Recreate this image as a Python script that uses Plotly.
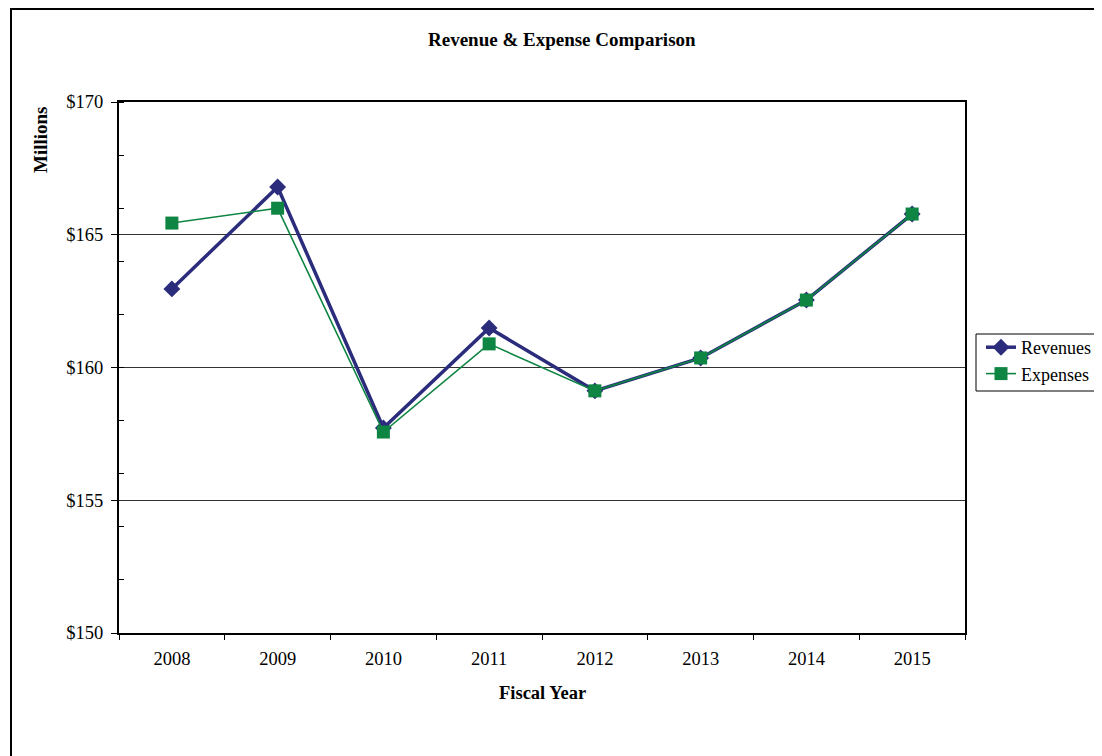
import plotly.graph_objects as go

years = ["2008", "2009", "2010", "2011", "2012", "2013", "2014", "2015"]
revenues = [162.96, 166.8, 157.72, 161.49, 159.12, 160.36, 162.54, 165.78]
expenses = [165.44, 166.0, 157.57, 160.89, 159.12, 160.36, 162.54, 165.78]
y_ticks = [150, 155, 160, 165, 170]
y_tick_labels = ["$150", "$155", "$160", "$165", "$170"]

FONT = "Liberation Serif"
OFF = 8  # page body margin offset
W, H = 1102 - OFF, 756 - OFF
# plot area in reference (screen) pixels
L, R, T, B = 119, 965, 102, 633

fig = go.Figure()
fig.add_trace(go.Scatter(
    x=years, y=revenues, name="Revenues", mode="lines+markers",
    line=dict(color="#2B2C7C", width=3.5),
    marker=dict(symbol="diamond", size=13, color="#2B2C7C"),
))
fig.add_trace(go.Scatter(
    x=years, y=expenses, name="Expenses", mode="lines+markers",
    line=dict(color="#0E8542", width=1.6),
    marker=dict(symbol="square", size=13, color="#0E8542"),
))

def px_x(p):
    return (p - L) / (R - L)

def px_y(p):
    return (B - p) / (B - T)

fig.update_layout(
    width=W, height=H,
    margin=dict(l=L - OFF, r=W - (R - OFF), t=T - OFF, b=H - (B - OFF), autoexpand=False),
    paper_bgcolor="white", plot_bgcolor="white",
    font=dict(family=FONT, size=18, color="black"),
    showlegend=True,
    legend=dict(
        x=px_x(981), y=px_y(329), xanchor="left", yanchor="top",
        borderwidth=0, bgcolor="rgba(0,0,0,0)",
        font=dict(family=FONT, size=18), tracegroupgap=0,
        itemwidth=30,
    ),
    xaxis=dict(
        type="category", range=[-0.5, 7.5],
        showline=True, linecolor="black", linewidth=2, mirror=True,
        ticks="outside", ticklen=5, tickcolor="black", tickwidth=1,
        tickson="boundaries", showgrid=False, zeroline=False,
        tickfont=dict(family=FONT, size=18.5), ticklabelstandoff=8,
    ),
    yaxis=dict(
        range=[150, 170], tickvals=y_ticks, ticktext=y_tick_labels,
        showline=True, linecolor="black", linewidth=2, mirror=True,
        ticks="outside", ticklen=6, tickcolor="black", tickwidth=1,
        showgrid=True, gridcolor="#333333", gridwidth=1, zeroline=False,
        tickfont=dict(family=FONT, size=18.5), ticklabelstandoff=4,
        minor=dict(tick0=150, dtick=2, ticks="inside", ticklen=5,
                   tickcolor="black", showgrid=False),
    ),
    annotations=[
        dict(text="<b>Revenue & Expense Comparison</b>", xref="paper", yref="paper",
             x=px_x(562), y=px_y(40), xanchor="center", yanchor="middle",
             showarrow=False, font=dict(family=FONT, size=19)),
        dict(text="<b>Millions</b>", xref="paper", yref="paper",
             x=px_x(40), y=px_y(140), xanchor="center", yanchor="middle",
             textangle=-90, showarrow=False, font=dict(family=FONT, size=19)),
        dict(text="<b>Fiscal Year</b>", xref="paper", yref="paper",
             x=px_x(542), y=px_y(693), xanchor="center", yanchor="middle",
             showarrow=False, font=dict(family=FONT, size=18.5)),
    ],
    shapes=[
        dict(type="rect", xref="paper", yref="paper",
             x0=px_x(11), x1=px_x(1110), y0=px_y(764), y1=px_y(9),
             line=dict(color="black", width=2), layer="below"),
        dict(type="rect", xref="paper", yref="paper",
             x0=px_x(976), x1=px_x(1120), y0=px_y(391), y1=px_y(334),
             line=dict(color="black", width=1), fillcolor="white", layer="below"),
    ],
)

fig.write_html("out.html")
